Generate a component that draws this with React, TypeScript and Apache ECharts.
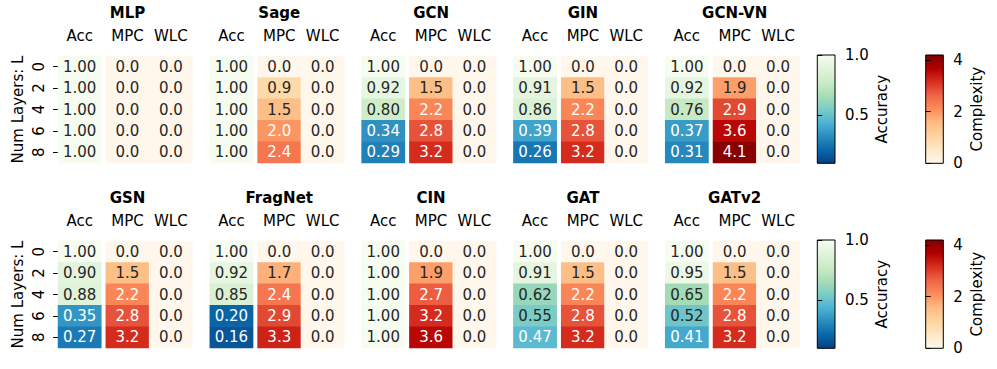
import React, { useEffect, useRef } from "react";
import * as echarts from "echarts";

// ---------- data ----------
const layers = ["0", "2", "4", "6", "8"];
const accColumns = ["Acc"];
const complexityColumns = ["MPC", "WLC"];
const topModels = ["MLP", "Sage", "GCN", "GIN", "GCN-VN"];
const bottomModels = ["GSN", "FragNet", "CIN", "GAT", "GATv2"];

const accuracy: Record<string, number[]> = {
  MLP: [1.0, 1.0, 1.0, 1.0, 1.0],
  Sage: [1.0, 1.0, 1.0, 1.0, 1.0],
  GCN: [1.0, 0.92, 0.8, 0.34, 0.29],
  GIN: [1.0, 0.91, 0.86, 0.39, 0.26],
  "GCN-VN": [1.0, 0.92, 0.76, 0.37, 0.31],
  GSN: [1.0, 0.9, 0.88, 0.35, 0.27],
  FragNet: [1.0, 0.92, 0.85, 0.2, 0.16],
  CIN: [1.0, 1.0, 1.0, 1.0, 1.0],
  GAT: [1.0, 0.91, 0.62, 0.55, 0.47],
  GATv2: [1.0, 0.95, 0.65, 0.52, 0.41],
};

const mpc: Record<string, number[]> = {
  MLP: [0.0, 0.0, 0.0, 0.0, 0.0],
  Sage: [0.0, 0.9, 1.5, 2.0, 2.4],
  GCN: [0.0, 1.5, 2.2, 2.8, 3.2],
  GIN: [0.0, 1.5, 2.2, 2.8, 3.2],
  "GCN-VN": [0.0, 1.9, 2.9, 3.6, 4.1],
  GSN: [0.0, 1.5, 2.2, 2.8, 3.2],
  FragNet: [0.0, 1.7, 2.4, 2.9, 3.3],
  CIN: [0.0, 1.9, 2.7, 3.2, 3.6],
  GAT: [0.0, 1.5, 2.2, 2.8, 3.2],
  GATv2: [0.0, 1.5, 2.2, 2.8, 3.2],
};

const wlc: Record<string, number[]> = {
  MLP: [0.0, 0.0, 0.0, 0.0, 0.0],
  Sage: [0.0, 0.0, 0.0, 0.0, 0.0],
  GCN: [0.0, 0.0, 0.0, 0.0, 0.0],
  GIN: [0.0, 0.0, 0.0, 0.0, 0.0],
  "GCN-VN": [0.0, 0.0, 0.0, 0.0, 0.0],
  GSN: [0.0, 0.0, 0.0, 0.0, 0.0],
  FragNet: [0.0, 0.0, 0.0, 0.0, 0.0],
  CIN: [0.0, 0.0, 0.0, 0.0, 0.0],
  GAT: [0.0, 0.0, 0.0, 0.0, 0.0],
  GATv2: [0.0, 0.0, 0.0, 0.0, 0.0],
};

const accRange = [0.1, 1.0];
const complexityRange = [0, 4.2];
const accTicks = [0.5, 1.0];
const complexityTicks = [0, 2, 4];

// colormaps (matplotlib GnBu / OrRd)
const GNBU = ["#f7fcf0", "#e0f3db", "#ccebc5", "#a8ddb5", "#7bccc4", "#4eb3d3", "#2b8cbe", "#0868ac", "#084081"];
const ORRD = ["#fff7ec", "#fee8c8", "#fdd49e", "#fdbb84", "#fc8d59", "#ef6548", "#d7301f", "#b30000", "#7f0000"];

const FONT = "DejaVu Sans";
const DARK = "#262626";

export default function App() {
  const ref = useRef<HTMLDivElement>(null);

  useEffect(() => {
    const chart = echarts.init(ref.current!, null, { renderer: "svg" });

    const grid: any[] = [];
    const xAxis: any[] = [];
    const yAxis: any[] = [];
    const series: any[] = [];
    const graphic: any[] = [];
    const accSeriesIdx: number[] = [];
    const cxSeriesIdx: number[] = [];

    const rows = [topModels, bottomModels];
    const rowTops = [56, 241];
    const cellH = 107;
    const accW = 43.3;
    const cxW = 86.7;

    const colLabel = {
      show: true,
      interval: 0,
      hideOverlap: false,
      fontSize: 15,
      fontFamily: FONT,
      color: "#000",
      margin: 13,
    };

    const accCells = (vals: number[]) => vals.map((v, i) => [0, i, v]);
    const cxCells = (a: number[], b: number[]) => [
      ...a.map((v, i) => [0, i, v]),
      ...b.map((v, i) => [1, i, v]),
    ];

    rows.forEach((models, r) => {
      const top = rowTops[r];
      models.forEach((m, p) => {
        const accLeft = 58 + 151.8 * p;
        const cxLeft = accLeft + 47.8;

        // accuracy grid
        const ga = grid.length;
        grid.push({ left: accLeft, top, width: accW, height: cellH });
        xAxis.push({
          type: "category",
          gridIndex: ga,
          position: "top",
          data: accColumns,
          axisLine: { show: false },
          axisTick: { show: false },
          axisLabel: colLabel,
          splitLine: { show: false },
        });
        yAxis.push({
          type: "category",
          gridIndex: ga,
          data: layers,
          inverse: true,
          axisLine: { show: false },
          axisTick: { show: p === 0, length: 5, alignWithLabel: true, lineStyle: { color: "#000", width: 1 } },
          axisLabel: {
            show: p === 0,
            interval: 0,
            rotate: 90,
            fontSize: 15,
            fontFamily: FONT,
            color: "#000",
            margin: 12,
          },
          name: p === 0 ? "Num Layers: L" : "",
          nameLocation: "middle",
          nameRotate: 90,
          nameGap: 33,
          nameTextStyle: { fontSize: 15, fontFamily: FONT, color: "#000" },
          splitLine: { show: false },
        });
        accSeriesIdx.push(series.length);
        series.push({
          type: "heatmap",
          xAxisIndex: ga,
          yAxisIndex: ga,
          data: accCells(accuracy[m]),
          label: {
            show: true,
            formatter: (prm: any) => {
              const v = prm.value[2];
              const s = v.toFixed(2);
              return v < 0.5 ? `{w|${s}}` : `{d|${s}}`;
            },
            rich: {
              w: { color: "#ffffff", fontSize: 15, fontFamily: FONT },
              d: { color: DARK, fontSize: 15, fontFamily: FONT },
            },
          },
          emphasis: { disabled: true },
        });

        // complexity grid
        const gc = grid.length;
        grid.push({ left: cxLeft, top, width: cxW, height: cellH });
        xAxis.push({
          type: "category",
          gridIndex: gc,
          position: "top",
          data: complexityColumns,
          axisLine: { show: false },
          axisTick: { show: false },
          axisLabel: colLabel,
          splitLine: { show: false },
        });
        yAxis.push({
          type: "category",
          gridIndex: gc,
          data: layers,
          inverse: true,
          show: false,
        });
        cxSeriesIdx.push(series.length);
        series.push({
          type: "heatmap",
          xAxisIndex: gc,
          yAxisIndex: gc,
          data: cxCells(mpc[m], wlc[m]),
          label: {
            show: true,
            formatter: (prm: any) => {
              const v = prm.value[2];
              const s = v.toFixed(1);
              return v >= 1.95 ? `{w|${s}}` : `{d|${s}}`;
            },
            rich: {
              w: { color: "#ffffff", fontSize: 15, fontFamily: FONT },
              d: { color: DARK, fontSize: 15, fontFamily: FONT },
            },
          },
          emphasis: { disabled: true },
        });

        // title over the MPC column
        graphic.push({
          type: "text",
          x: cxLeft + cxW / 4,
          y: top - 43.5,
          style: {
            text: m,
            font: `bold 15px "${FONT}"`,
            fill: "#000",
            align: "center",
            verticalAlign: "middle",
          },
        });
      });

      // colorbars
      const cbDefs = [
        { left: 817.3, width: 17.7, colors: GNBU.slice().reverse(), range: accRange, ticks: accTicks, name: "Accuracy", gap: 39, fmt: (v: number) => v.toFixed(1) },
        { left: 925.7, width: 17.6, colors: ORRD, range: complexityRange, ticks: complexityTicks, name: "Complexity", gap: 26, fmt: (v: number) => String(v) },
      ];
      cbDefs.forEach((cb) => {
        const gi = grid.length;
        const stops = cb.colors.map((c, i) => ({ offset: i / (cb.colors.length - 1), color: c }));
        grid.push({
          left: cb.left,
          top: top - 1,
          width: cb.width,
          height: cellH + 1.3,
          show: true,
          borderColor: "#000",
          borderWidth: 1,
          backgroundColor: new echarts.graphic.LinearGradient(0, 1, 0, 0, stops),
        });
        xAxis.push({ type: "value", gridIndex: gi, show: false, min: 0, max: 1 });
        yAxis.push({
          type: "value",
          gridIndex: gi,
          position: "right",
          min: cb.range[0],
          max: cb.range[1],
          axisLine: { show: false },
          axisTick: { show: true, length: 5, customValues: cb.ticks, lineStyle: { color: "#000", width: 1 } },
          axisLabel: {
            show: true,
            customValues: cb.ticks,
            formatter: cb.fmt,
            fontSize: 15,
            fontFamily: FONT,
            color: "#000",
            margin: 10,
          },
          splitLine: { show: false },
          name: cb.name,
          nameLocation: "middle",
          nameRotate: 90,
          nameGap: cb.gap,
          nameTextStyle: { fontSize: 15, fontFamily: FONT, color: "#000" },
        });
      });
    });

    chart.setOption({
      animation: false,
      backgroundColor: "#ffffff",
      textStyle: { fontFamily: FONT },
      grid,
      xAxis,
      yAxis,
      series,
      graphic,
      visualMap: [
        {
          type: "continuous",
          show: false,
          min: accRange[0],
          max: accRange[1],
          dimension: 2,
          seriesIndex: accSeriesIdx,
          inRange: { color: GNBU.slice().reverse() },
        },
        {
          type: "continuous",
          show: false,
          min: complexityRange[0],
          max: complexityRange[1],
          dimension: 2,
          seriesIndex: cxSeriesIdx,
          inRange: { color: ORRD },
        },
      ],
    });

    return () => chart.dispose();
  }, []);

  return <div ref={ref} style={{ width: 997, height: 369, position: "absolute", left: 0, top: 0 }} />;
}
